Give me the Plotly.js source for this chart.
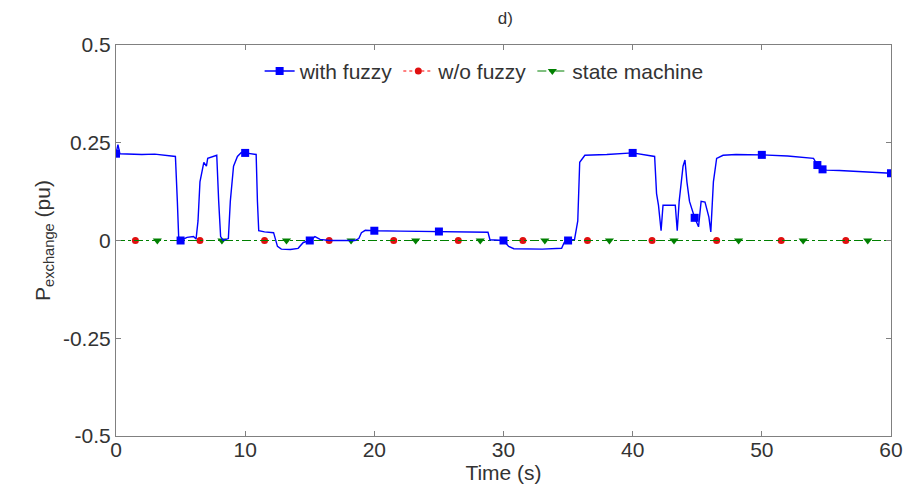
<!DOCTYPE html>
<html>
<head>
<meta charset="utf-8">
<script src="https://cdn.plot.ly/plotly-3.0.1.min.js"></script>
<style>html,body{margin:0;padding:0;background:#fff;}#chart{width:922px;height:492px;}</style>
</head>
<body>
<div id="chart"></div>
<script>
// ---- data ----
const seriesNames = ["with fuzzy", "w/o fuzzy", "state machine"];

// with fuzzy: continuous line
const fuzzyT = [0, 0.15, 0.3, 1, 2, 3, 4, 4.6, 4.75, 4.85, 5, 5.5, 6.0, 6.2, 6.35, 6.5, 6.8, 7.0, 7.1, 7.5, 7.8, 7.95, 8.1, 8.3, 8.7, 8.85, 9.1, 9.4, 9.7, 10, 10.5, 10.85, 10.95, 11.05, 11.5, 12.2, 12.5, 12.8, 13.5, 14.1, 14.5, 15, 15.4, 15.8, 16.5, 18.5, 18.8, 19.0, 19.3, 20, 22, 25, 27, 28.8, 28.95, 29.5, 30, 30.4, 30.8, 33, 34.5, 34.7, 35, 35.5, 35.75, 35.9, 36.3, 38, 40, 41.7, 41.85, 42.0, 42.2, 42.35, 43.3, 43.45, 43.6, 43.9, 44.05, 44.2, 44.4, 44.8, 45.1, 45.3, 45.6, 45.9, 46.05, 46.25, 46.5, 47, 48, 50, 52, 54, 54.3, 54.7, 55, 56, 57, 58, 59, 60];
const fuzzyY = [0.222, 0.245, 0.222, 0.221, 0.22, 0.221, 0.218, 0.215, 0.1, 0.01, 0.0, 0.008, 0.01, 0.004, 0.05, 0.15, 0.2, 0.19, 0.21, 0.215, 0.218, 0.1, 0.01, 0.0, 0.005, 0.1, 0.19, 0.215, 0.225, 0.224, 0.222, 0.22, 0.1, 0.025, 0.022, 0.02, -0.015, -0.022, -0.023, -0.02, -0.005, 0.0, 0.01, 0.003, 0.0, 0.0, 0.005, 0.02, 0.026, 0.025, 0.024, 0.023, 0.022, 0.021, 0.002, 0.0, 0.0, -0.015, -0.021, -0.022, -0.02, -0.005, 0.0, 0.003, 0.05, 0.2, 0.218, 0.22, 0.224, 0.215, 0.12, 0.09, 0.025, 0.09, 0.09, 0.025, 0.1, 0.19, 0.206, 0.15, 0.1, 0.058, 0.035, 0.1, 0.098, 0.06, 0.022, 0.15, 0.21, 0.218, 0.22, 0.219, 0.216, 0.21, 0.193, 0.182, 0.18, 0.179, 0.177, 0.176, 0.174, 0.172];
// with fuzzy: marker positions
const fuzzyMarkT = [0, 5, 10, 15, 20, 25, 30, 35, 40, 44.8, 50, 54.3, 54.7, 60];
const fuzzyMarkY = [0.222, 0.0, 0.224, 0.0, 0.025, 0.023, 0.0, 0.0, 0.224, 0.058, 0.219, 0.193, 0.182, 0.172];

// w/o fuzzy
const noFuzzyT = [0, 60];
const noFuzzyY = [0, 0];
const noFuzzyMarkT = [1.5, 6.5, 11.5, 16.5, 21.5, 26.5, 31.5, 36.5, 41.5, 46.5, 51.5, 56.5];
const noFuzzyMarkY = [0, 0, 0, 0, 0, 0, 0, 0, 0, 0, 0, 0];

// state machine
const stateT = [0, 60];
const stateY = [0, 0];
const stateMarkT = [3.2, 8.2, 13.2, 18.2, 23.2, 28.2, 33.2, 38.2, 43.2, 48.2, 53.2, 58.2];
const stateMarkY = [0, 0, 0, 0, 0, 0, 0, 0, 0, 0, 0, 0];

const xTicks = [0, 10, 20, 30, 40, 50, 60];
const yTicks = [-0.5, -0.25, 0, 0.25, 0.5];
const yTickText = ["-0.5", "-0.25", "0", "0.25", "0.5"];

// ---- styles ----
const cBlue = "#0000ff", cRed = "#ff0000", cGreen = "#008000";
const blueMarker = {symbol: "square", size: 8, color: cBlue};
const redMarker = {symbol: "circle", size: 7, color: "#e01010"};
const greenMarker = {symbol: "triangle-down", size: 8, color: cGreen};
const FONT = "Liberation Sans, Arial, sans-serif";
const TXT = "#333";

const traces = [
  {x: noFuzzyT, y: noFuzzyY, mode: "lines", line: {color: cRed, width: 1, dash: "dash"}, showlegend: false, hoverinfo: "skip"},
  {x: noFuzzyMarkT, y: noFuzzyMarkY, mode: "markers", marker: redMarker, showlegend: false},
  {x: stateT, y: stateY, mode: "lines", line: {color: cGreen, width: 1, dash: "dashdot"}, showlegend: false, hoverinfo: "skip"},
  {x: stateMarkT, y: stateMarkY, mode: "markers", marker: greenMarker, showlegend: false},
  {x: fuzzyT, y: fuzzyY, mode: "lines", line: {color: cBlue, width: 1.4}, showlegend: false},
  {x: fuzzyMarkT, y: fuzzyMarkY, mode: "markers", marker: blueMarker, showlegend: false},
  // legend entries
  {x: [null], y: [null], name: seriesNames[0], mode: "lines+markers", line: {color: cBlue, width: 1.4}, marker: blueMarker},
  {x: [null], y: [null], name: seriesNames[1], mode: "lines+markers", line: {color: cRed, width: 1, dash: "dot"}, marker: redMarker},
  {x: [null], y: [null], name: seriesNames[2], mode: "lines+markers", line: {color: cGreen, width: 1, dash: "dashdot"}, marker: greenMarker}
];

const axisCommon = {
  showline: true, linecolor: "#808080", linewidth: 1, mirror: "ticks",
  ticks: "inside", ticklen: 5, tickcolor: "#808080", showgrid: false, zeroline: false,
  tickfont: {family: FONT, size: 21, color: TXT}
};

const layout = {
  width: 922, height: 492,
  margin: {l: 116, r: 31, t: 45, b: 56},
  paper_bgcolor: "#fff", plot_bgcolor: "#fff",
  font: {family: FONT, color: TXT},
  title: {text: "d)", x: 0.548, xanchor: "center", y: 0.963, yanchor: "middle", font: {size: 17, color: TXT}},
  xaxis: Object.assign({}, axisCommon, {
    range: [0, 60], tickvals: xTicks, ticklabelstandoff: -5,
    title: {text: "Time (s)", font: {size: 21, color: TXT}, standoff: 0}
  }),
  yaxis: Object.assign({}, axisCommon, {
    range: [-0.5, 0.5], tickvals: yTicks, ticktext: yTickText,
    title: {text: "P<sub>exchange</sub> (pu)", font: {size: 21, color: TXT}, standoff: 6}
  }),
  legend: {
    orientation: "h", x: 0.475, xanchor: "center", y: 0.985, yanchor: "top",
    bgcolor: "rgba(255,255,255,0)", borderwidth: 0,
    font: {size: 21, color: TXT}, itemwidth: 30, tracegroupgap: 0
  },
  showlegend: true
};

Plotly.newPlot("chart", traces, layout, {displayModeBar: false, staticPlot: true});
</script>
</body>
</html>
